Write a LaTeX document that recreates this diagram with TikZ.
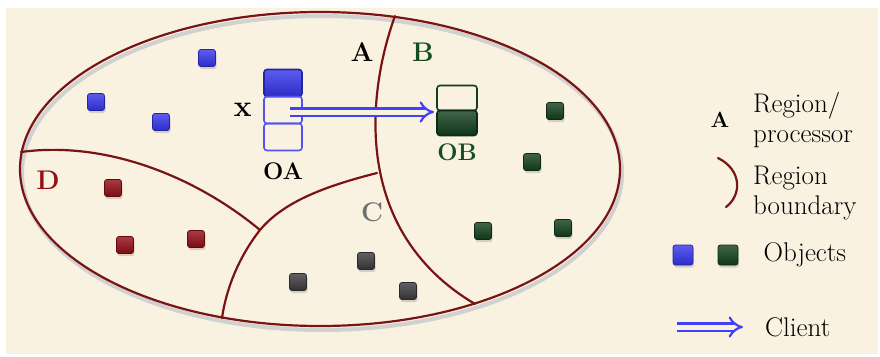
\documentclass[tikz,border=0pt]{standalone}
\usepackage{tikz}
\usetikzlibrary{shapes, arrows.meta, positioning, calc, shadows}

\definecolor{parch}{RGB}{250,242,225}
\definecolor{bound}{RGB}{120,20,20}
\definecolor{objblue}{RGB}{52,52,235}
\definecolor{objgreen}{RGB}{18,62,28}
\definecolor{objred}{RGB}{145,12,20}
\definecolor{objgray}{RGB}{58,58,62}
\definecolor{labgreen}{RGB}{22,78,32}
\definecolor{labred}{RGB}{150,15,22}
\definecolor{labgray}{RGB}{112,112,112}
\definecolor{cliblue}{RGB}{65,65,245}

\tikzset{
    obj/.style={ % Small object square
    rectangle, rounded corners=2.5pt, inner sep=0pt, minimum size=17pt,
    draw=#1!70!black, line width=0.8pt,
    top color=#1!80!white, bottom color=#1!85!black,
    drop shadow={opacity=0.3, shadow xshift=1pt, shadow yshift=-2.5pt}},
    stackbox/.style={ % One slot of an object stack
    rectangle, rounded corners=3pt, inner sep=0pt, outer sep=0pt,
    minimum width=38pt, minimum height=27pt, line width=1.6pt},
    reglab/.style={font=\fontsize{27}{32}\selectfont\bfseries, inner sep=0pt},
    tag/.style={font=\fontsize{24}{28}\selectfont\bfseries, inner sep=0pt},
    legtext/.style={font=\fontsize{27}{30}\selectfont, align=left, anchor=west, inner sep=0pt},
    boundary/.style={draw=bound, line width=2.2pt, line cap=round},
    client/.style={ % Double arrow of a client call
    draw=cliblue, double=parch, double distance=5pt, line width=2.2pt,
    -{Implies}}}

\begin{document}
\begin{tikzpicture}[x=1pt, y=-1pt]
    \useasboundingbox (0,0) rectangle (880,356);
    \fill[white] (0,0) rectangle (880,356);
    \fill[parch] (6,8) rectangle (878,354);

    % Outer region
    \draw[boundary, preaction={draw=black!18, line width=4pt, transform canvas={shift={(2pt,-4pt)}}}]
        (320,169) ellipse [x radius=300, y radius=157];

    % Region boundaries
    \coordinate (jd) at (260,230);
    \coordinate (jc) at (377,173);
    \draw[boundary] (395,16) .. controls (368,90) and (350,230) .. (475,304);
    \draw[boundary] (21,152) .. controls (110,140) and (200,180) .. (jd);
    \draw[boundary] (jd) .. controls (285,200) and (330,185) .. (jc);
    \draw[boundary] (jd) .. controls (238,258) and (226,290) .. (222,318);

    % Region labels
    \node[reglab] (labA) at (362,52) {A};
    \node[reglab, text=labgreen] (labB) at (423,52) {B};
    \node[reglab, text=labgray] (labC) at (372,212) {C};
    \node[reglab, text=labred] (labD) at (48,180) {D};

    % Objects
    \node[obj=objblue] (a1) at (207,58) {};
    \node[obj=objblue] (a2) at (96,102) {};
    \node[obj=objblue] (a3) at (161,122) {};
    \node[obj=objgreen] (b1) at (555,111) {};
    \node[obj=objgreen] (b2) at (532,162) {};
    \node[obj=objgreen] (b3) at (483,231) {};
    \node[obj=objgreen] (b4) at (563,228) {};
    \node[obj=objgray] (c1) at (298,282) {};
    \node[obj=objgray] (c2) at (366,261) {};
    \node[obj=objgray] (c3) at (408,291) {};
    \node[obj=objred] (d1) at (113,188) {};
    \node[obj=objred] (d2) at (125,245) {};
    \node[obj=objred] (d3) at (196,239) {};

    % Object stack OA
    \node[stackbox, draw=objblue!70!black, top color=objblue!80!white, bottom color=objblue!85!black] (oa1) at (283,83) {};
    \node[stackbox, draw=objblue!85!white, below=0pt of oa1] (oa2) {};
    \node[stackbox, draw=objblue!85!white, below=0pt of oa2] (oa3) {};
    \node[tag, font=\fontsize{30}{34}\selectfont\bfseries, left=12pt of oa2] (xlab) {x};
    \node[tag, below=12pt of oa3] (oalab) {OA};

    % Object stack OB
    \node[stackbox, minimum width=40pt, minimum height=25pt, draw=objgreen] (ob1) at (457,98) {};
    \node[stackbox, minimum width=40pt, minimum height=25pt, draw=objgreen!70!black,
        top color=objgreen!80!white, bottom color=objgreen!85!black, below=0pt of ob1] (ob2) {};
    \node[tag, text=labgreen, below=8pt of ob2] (oblab) {OB};

    % Client call
    \coordinate (xstart) at (290,112);
    \draw[client, shorten >=3pt] (xstart) -- (xstart -| ob1.west);

    % Legend
    \node[reglab, font=\fontsize{22}{26}\selectfont\bfseries] (legA) at (720,120) {A};
    \node[legtext] (legreg) at (753,120) {Region/\\processor};
    \coordinate (lb1) at (718,158);
    \coordinate (lb2) at (726,207);
    \draw[boundary] (lb1) .. controls (742,170) and (742,195) .. (lb2);
    \node[legtext] (legbound) at (753,193) {Region\\boundary};
    \node[obj=objblue, minimum size=20pt] (legblue) at (683,255) {};
    \node[obj=objgreen, minimum size=20pt] (leggreen) at (728,255) {};
    \node[legtext, right=25pt of leggreen] (legobj) {Objects};
    \coordinate (lc1) at (677,327);
    \coordinate (lc2) at (743,327);
    \draw[client] (lc1) -- (lc2);
    \node[legtext] (legcli) at (765,327) {Client};
\end{tikzpicture}
\end{document}
